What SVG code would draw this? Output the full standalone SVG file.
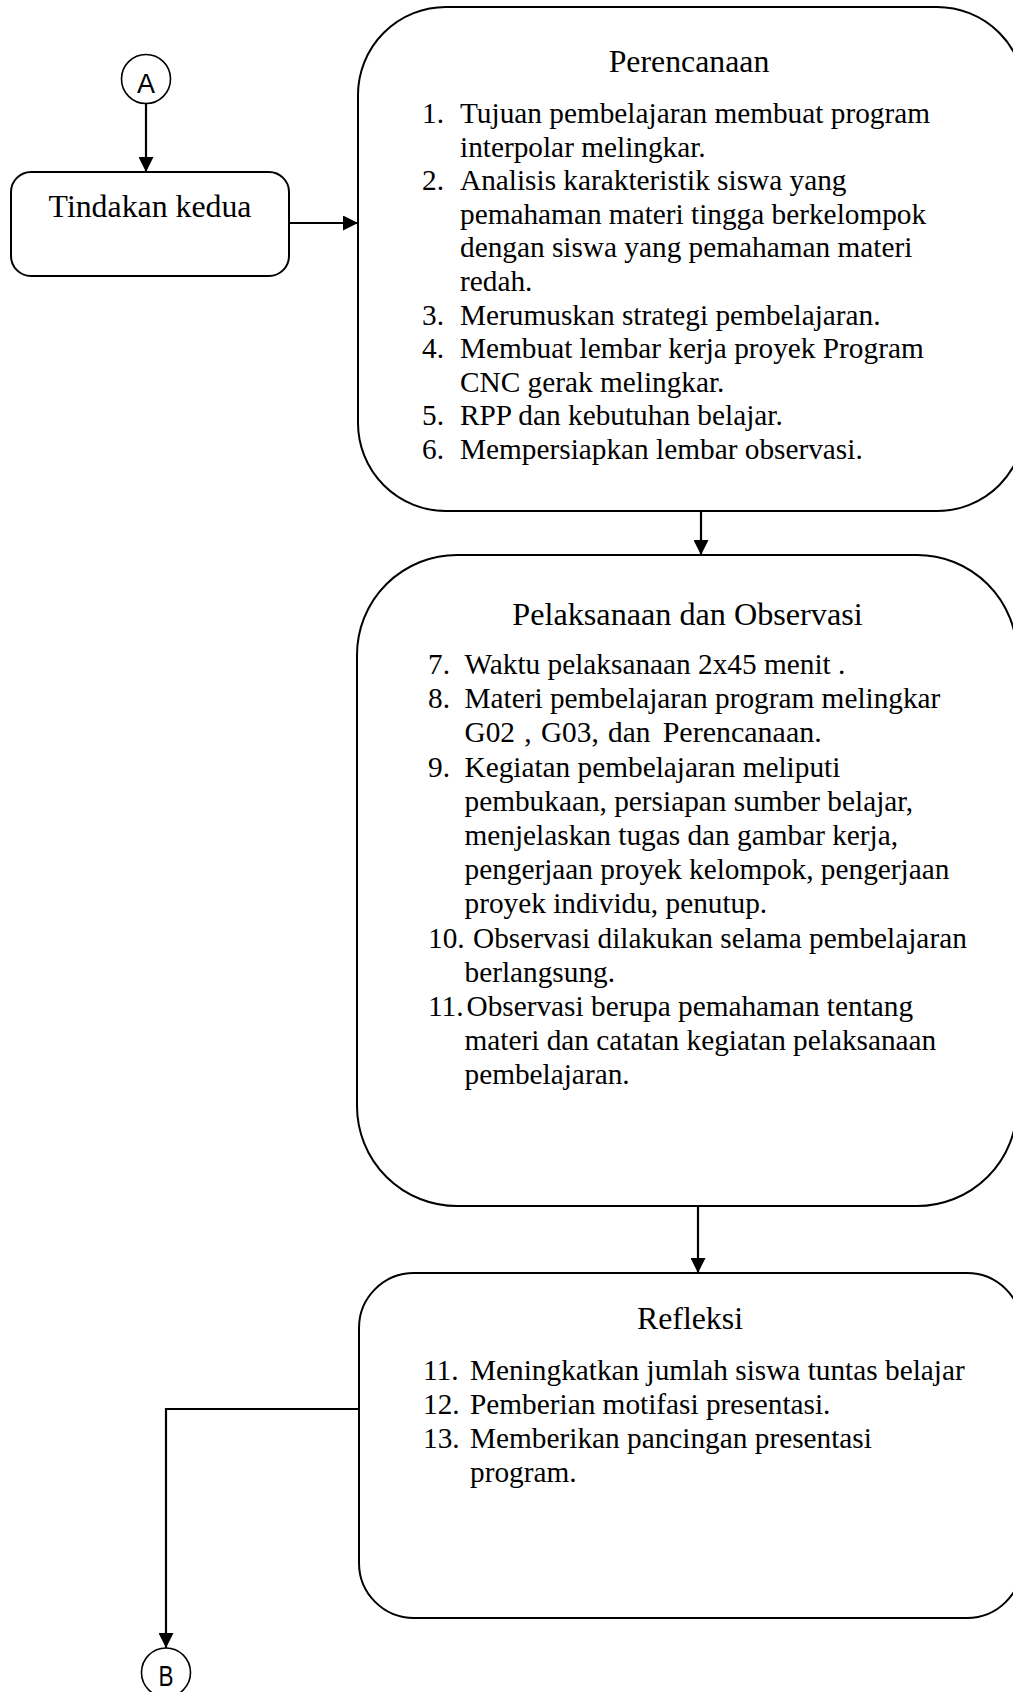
<svg xmlns="http://www.w3.org/2000/svg" width="1013" height="1692" viewBox="0 0 1013 1692">
  <style>
    .box { fill: #ffffff; stroke: #000000; stroke-width: 2; }
    .ring { fill: #ffffff; stroke: #000000; stroke-width: 1.6; }
    .wire { fill: none; stroke: #000000; stroke-width: 2.2; }
    .t { font-family: "Liberation Serif", "Times New Roman", serif; font-size: 29.3px; fill: #000000; }
    .title { font-family: "Liberation Serif", "Times New Roman", serif; fill: #000000; text-anchor: middle; }
    .lbl { font-family: "Liberation Sans", Arial, sans-serif; fill: #000000; text-anchor: middle; }
  </style>
  <defs>
    <marker id="head" markerUnits="userSpaceOnUse" markerWidth="16" markerHeight="15" refX="15" refY="7.5" orient="auto">
      <path d="M0,0 L15,7.5 L0,15 z" fill="#000000"/>
    </marker>
  </defs>

  <rect x="0" y="0" width="1013" height="1692" fill="#ffffff"/>

  <!-- connectors -->
  <g id="connectors">
    <path class="wire" d="M146 103.5 V172" marker-end="url(#head)"/>
    <path class="wire" d="M289 223 H358" marker-end="url(#head)"/>
    <path class="wire" d="M701 511 V555" marker-end="url(#head)"/>
    <path class="wire" d="M698 1206 V1273" marker-end="url(#head)"/>
    <path class="wire" d="M359 1409 H166 V1648" marker-end="url(#head)"/>
  </g>

  <!-- off-page connector A -->
  <g id="node-a">
    <circle class="ring" cx="146" cy="79" r="24.5"/>
    <text class="lbl" x="146" y="92.5" font-size="27">A</text>
  </g>

  <!-- start step -->
  <g id="node-tindakan">
    <rect class="box" x="11" y="172" width="278" height="104" rx="20" ry="20"/>
    <text class="title" x="150" y="217" font-size="31.8">Tindakan kedua</text>
  </g>

  <!-- planning -->
  <g id="node-perencanaan">
    <rect class="box" x="358" y="7" width="667" height="504" rx="88" ry="88"/>
    <text class="title" x="689" y="71.7" font-size="31.8">Perencanaan</text>
    <text class="t" x="422" y="123">1.</text>
    <text class="t" x="460" y="123">Tujuan pembelajaran membuat program</text>
    <text class="t" x="460" y="156.6">interpolar melingkar.</text>
    <text class="t" x="422" y="190.2">2.</text>
    <text class="t" x="460" y="190.2">Analisis karakteristik siswa yang</text>
    <text class="t" x="460" y="223.8">pemahaman materi tingga berkelompok</text>
    <text class="t" x="460" y="257.4">dengan siswa yang pemahaman materi</text>
    <text class="t" x="460" y="291">redah.</text>
    <text class="t" x="422" y="324.6">3.</text>
    <text class="t" x="460" y="324.6">Merumuskan strategi pembelajaran.</text>
    <text class="t" x="422" y="358.2">4.</text>
    <text class="t" x="460" y="358.2">Membuat lembar kerja proyek Program</text>
    <text class="t" x="460" y="391.8">CNC gerak melingkar.</text>
    <text class="t" x="422" y="425.4">5.</text>
    <text class="t" x="460" y="425.4">RPP dan kebutuhan belajar.</text>
    <text class="t" x="422" y="459">6.</text>
    <text class="t" x="460" y="459">Mempersiapkan lembar observasi.</text>
  </g>

  <!-- implementation and observation -->
  <g id="node-pelaksanaan">
    <rect class="box" x="357" y="555" width="660" height="651" rx="100" ry="100"/>
    <text class="title" x="687.5" y="625" font-size="32.2">Pelaksanaan dan Observasi</text>
    <text class="t" x="428" y="674">7.</text>
    <text class="t" x="464.5" y="674">Waktu pelaksanaan 2x45 menit .</text>
    <text class="t" x="428" y="708.2">8.</text>
    <text class="t" x="464.5" y="708.2">Materi pembelajaran program melingkar</text>
    <text class="t" x="464.5" y="742.4" word-spacing="2">G02 , G03, dan <tspan dx="3" font-size="30">Perencanaan.</tspan></text>
    <text class="t" x="428" y="776.6">9.</text>
    <text class="t" x="464.5" y="776.6">Kegiatan pembelajaran meliputi</text>
    <text class="t" x="464.5" y="810.8">pembukaan, persiapan sumber belajar,</text>
    <text class="t" x="464.5" y="845">menjelaskan tugas dan gambar kerja,</text>
    <text class="t" x="464.5" y="879.2">pengerjaan proyek kelompok, pengerjaan</text>
    <text class="t" x="464.5" y="913.4">proyek individu, penutup.</text>
    <text class="t" x="428" y="947.6">10.</text>
    <text class="t" x="473" y="947.6">Observasi dilakukan selama pembelajaran</text>
    <text class="t" x="464.5" y="981.8">berlangsung.</text>
    <text class="t" x="428" y="1016">11.</text>
    <text class="t" x="466.5" y="1016">Observasi berupa pemahaman tentang</text>
    <text class="t" x="464.5" y="1050.2">materi dan catatan kegiatan pelaksanaan</text>
    <text class="t" x="464.5" y="1084.4">pembelajaran.</text>
  </g>

  <!-- reflection -->
  <g id="node-refleksi">
    <rect class="box" x="359" y="1273" width="663" height="345" rx="55" ry="55"/>
    <text class="title" x="690" y="1329" font-size="31.8">Refleksi</text>
    <text class="t" x="423" y="1380">11.</text>
    <text class="t" x="470" y="1380">Meningkatkan jumlah siswa tuntas belajar</text>
    <text class="t" x="423" y="1414">12.</text>
    <text class="t" x="470" y="1414">Pemberian motifasi presentasi.</text>
    <text class="t" x="423" y="1448">13.</text>
    <text class="t" x="470" y="1448">Memberikan pancingan presentasi</text>
    <text class="t" x="470" y="1481.7">program.</text>
  </g>

  <!-- off-page connector B -->
  <g id="node-b">
    <circle class="ring" cx="166" cy="1672.5" r="24.5"/>
    <text class="lbl" x="166" y="1686" font-size="30" textLength="15" lengthAdjust="spacingAndGlyphs">B</text>
  </g>
</svg>
